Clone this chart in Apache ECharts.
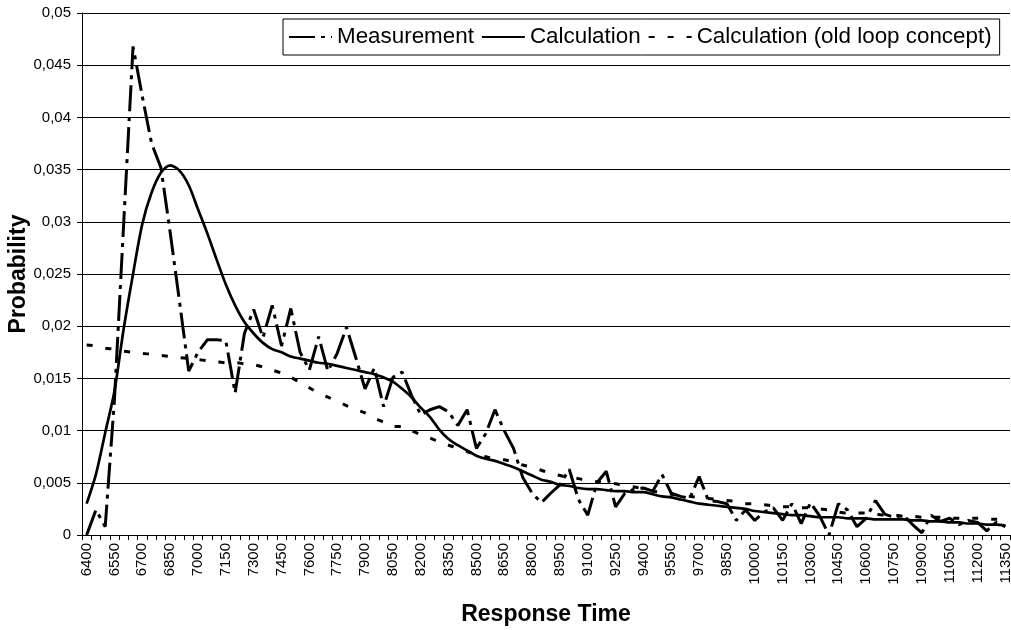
<!DOCTYPE html>
<html>
<head>
<meta charset="utf-8">
<title>Response Time</title>
<script src="https://cdn.jsdelivr.net/npm/echarts@6/dist/echarts.min.js"></script>
<style>
  html, body { margin: 0; padding: 0; background: #fff; }
  #chart { width: 1011px; height: 630px; }
</style>
</head>
<body>
<div id="chart"></div>
<script>
// response times (x categories, step 50)
var responseTimes = [
  6400, 6450, 6500, 6550, 6600, 6650, 6700, 6750, 6800, 6850,
  6900, 6950, 7000, 7050, 7100, 7150, 7200, 7250, 7300, 7350,
  7400, 7450, 7500, 7550, 7600, 7650, 7700, 7750, 7800, 7850,
  7900, 7950, 8000, 8050, 8100, 8150, 8200, 8250, 8300, 8350,
  8400, 8450, 8500, 8550, 8600, 8650, 8700, 8750, 8800, 8850,
  8900, 8950, 9000, 9050, 9100, 9150, 9200, 9250, 9300, 9350,
  9400, 9450, 9500, 9550, 9600, 9650, 9700, 9750, 9800, 9850,
  9900, 9950, 10000, 10050, 10100, 10150, 10200, 10250, 10300, 10350,
  10400, 10450, 10500, 10550, 10600, 10650, 10700, 10750, 10800, 10850,
  10900, 10950, 11000, 11050, 11100, 11150, 11200, 11250, 11300, 11350
];

var measurement = [
  0.0000, 0.0024, 0.0008, 0.0130, 0.0300, 0.0468, 0.0420, 0.0375, 0.0352, 0.0290,
  0.0224, 0.0157, 0.0175, 0.0187, 0.0187, 0.0186, 0.0136, 0.0193, 0.0216, 0.0189,
  0.0220, 0.0181, 0.0217, 0.0175, 0.0158, 0.0190, 0.0157, 0.0174, 0.0199, 0.0170,
  0.0140, 0.0160, 0.0123, 0.0151, 0.0156, 0.0134, 0.0115, 0.0120, 0.0123, 0.0118,
  0.0105, 0.0120, 0.0083, 0.0097, 0.0120, 0.0100, 0.0083, 0.0055, 0.0040, 0.0031,
  0.0040, 0.0048, 0.0063, 0.0034, 0.0019, 0.0050, 0.0061, 0.0027, 0.0040, 0.0044,
  0.0045, 0.0042, 0.0058, 0.0040, 0.0037, 0.0035, 0.0056, 0.0033, 0.0032, 0.0030,
  0.0014, 0.0024, 0.0014, 0.0022, 0.0026, 0.0014, 0.0030, 0.0011, 0.0031, 0.0018,
  0.0000, 0.0030, 0.0024, 0.0008, 0.0016, 0.0033, 0.0020, 0.0017, 0.0019, 0.0010,
  0.0002, 0.0019, 0.0013, 0.0016, 0.0010, 0.0014, 0.0012, 0.0004, 0.0012, 0.0008
];

var calculation = [
  0.0030, 0.0058, 0.0098, 0.0138, 0.0198, 0.0250, 0.0298, 0.0328, 0.0347, 0.0354,
  0.0349, 0.0335, 0.0312, 0.0289, 0.0264, 0.0240, 0.0220, 0.0204, 0.0193, 0.0184,
  0.0178, 0.0175, 0.0171, 0.0169, 0.0167, 0.0165, 0.0164, 0.0162, 0.0160, 0.0158,
  0.0156, 0.0154, 0.0151, 0.0147, 0.0140, 0.0132, 0.0122, 0.0113, 0.0101, 0.0092,
  0.0086, 0.0081, 0.0076, 0.0073, 0.0071, 0.0068, 0.0065, 0.0061, 0.0057, 0.0053,
  0.0051, 0.0048, 0.0047, 0.0045, 0.0044, 0.0044, 0.0043, 0.0042, 0.0042, 0.0041,
  0.0041, 0.0039, 0.0037, 0.0036, 0.0034, 0.0032, 0.0030, 0.0029, 0.0028, 0.0027,
  0.0026, 0.0025, 0.0023, 0.0022, 0.0021, 0.0020, 0.0019, 0.0019, 0.0018, 0.0017,
  0.0017, 0.0017, 0.0016, 0.0016, 0.0016, 0.0015, 0.0015, 0.0015, 0.0015, 0.0014,
  0.0014, 0.0013, 0.0013, 0.0012, 0.0012, 0.0011, 0.0011, 0.0010, 0.0010, 0.0009
];

var calculationOldLoop = [
  0.0182, 0.0181, 0.0179, 0.0178, 0.0176, 0.0175, 0.0174, 0.0173, 0.0172, 0.0171,
  0.0170, 0.0169, 0.0168, 0.0167, 0.0166, 0.0165, 0.0165, 0.0164, 0.0163, 0.0161,
  0.0158, 0.0155, 0.0151, 0.0146, 0.0141, 0.0136, 0.0132, 0.0128, 0.0124, 0.0120,
  0.0117, 0.0112, 0.0108, 0.0104, 0.0104, 0.0100, 0.0096, 0.0093, 0.0089, 0.0086,
  0.0083, 0.0080, 0.0077, 0.0075, 0.0073, 0.0072, 0.0070, 0.0067, 0.0065, 0.0062,
  0.0059, 0.0057, 0.0055, 0.0054, 0.0052, 0.0051, 0.0050, 0.0049, 0.0047, 0.0046,
  0.0044, 0.0042, 0.0041, 0.0039, 0.0038, 0.0037, 0.0036, 0.0035, 0.0034, 0.0033,
  0.0032, 0.0030, 0.0030, 0.0029, 0.0028, 0.0027, 0.0027, 0.0026, 0.0026, 0.0025,
  0.0024, 0.0022, 0.0021, 0.0021, 0.0021, 0.0020, 0.0019, 0.0019, 0.0018, 0.0018,
  0.0017, 0.0017, 0.0017, 0.0016, 0.0016, 0.0016, 0.0016, 0.0015, 0.0015, 0.0015
];

var FONT = '"Liberation Sans", Arial, sans-serif';

var chart = echarts.init(document.getElementById('chart'));

chart.setOption({
  animation: false,
  backgroundColor: '#fff',
  textStyle: { fontFamily: FONT, color: '#000' },
  grid: { left: 82, right: 1, top: 13, bottom: 95, containLabel: false, outerBoundsMode: 'none' },
  legend: {
    left: 283,
    top: 19,
    padding: [7, 8, 7, 5],
    borderColor: '#000',
    borderWidth: 1,
    backgroundColor: '#fff',
    itemWidth: 43,
    itemHeight: 14,
    itemGap: 7,
    itemStyle: { opacity: 0 },
    textStyle: { fontFamily: FONT, fontSize: 22.4, color: '#000' },
    data: ['Measurement', 'Calculation', 'Calculation (old loop concept)']
  },
  xAxis: {
    type: 'category',
    data: responseTimes,
    boundaryGap: true,
    name: 'Response Time',
    nameLocation: 'middle',
    nameGap: 68,
    nameTextStyle: { fontFamily: FONT, fontSize: 23, fontWeight: 'bold', color: '#000' },
    axisLine: { lineStyle: { color: '#000', width: 1 } },
    axisTick: { show: true, interval: 0, length: 5, lineStyle: { color: '#000' } },
    axisLabel: {
      interval: 2,
      rotate: 90,
      margin: 8,
      fontFamily: FONT,
      fontSize: 15,
      color: '#000'
    },
    splitLine: { show: false }
  },
  yAxis: {
    type: 'value',
    min: 0,
    max: 0.05,
    interval: 0.005,
    name: 'Probability',
    nameLocation: 'middle',
    nameGap: 52,
    nameMoveOverlap: false,
    nameTextStyle: { fontFamily: FONT, fontSize: 23, fontWeight: 'bold', color: '#000' },
    axisLine: { show: true, lineStyle: { color: '#000', width: 1 } },
    axisTick: { show: true, length: 5, lineStyle: { color: '#000' } },
    axisLabel: {
      margin: 11,
      fontFamily: FONT,
      fontSize: 15,
      color: '#000',
      formatter: function (v) {
        return String(+v.toFixed(3)).replace('.', ',');
      }
    },
    splitLine: { show: true, lineStyle: { color: '#000', width: 1 } }
  },
  series: [
    {
      name: 'Measurement',
      type: 'line',
      data: measurement,
      symbol: 'none',
      smooth: false,
      lineStyle: { color: '#000', width: 3, type: [26, 6, 4, 6] },
      itemStyle: { color: '#000' },
      z: 3
    },
    {
      name: 'Calculation',
      type: 'line',
      data: calculation,
      symbol: 'none',
      smooth: 0.3,
      lineStyle: { color: '#000', width: 2.7, type: 'solid' },
      itemStyle: { color: '#000' },
      z: 2
    },
    {
      name: 'Calculation (old loop concept)',
      type: 'line',
      data: calculationOldLoop,
      symbol: 'none',
      smooth: 0.3,
      lineStyle: { color: '#000', width: 3, type: [6, 13] },
      itemStyle: { color: '#000' },
      z: 1
    }
  ]
});
</script>
</body>
</html>
